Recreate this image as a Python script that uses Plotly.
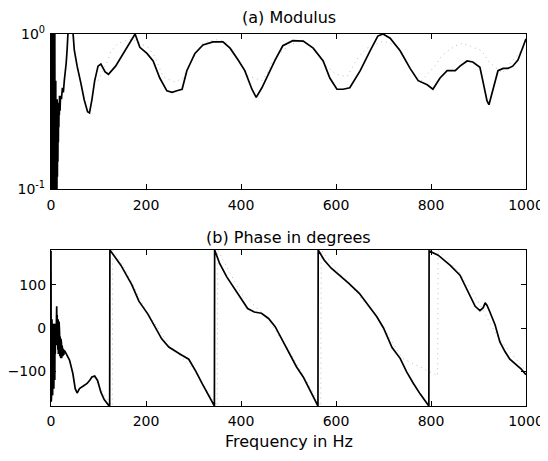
import plotly.graph_objects as go

# ---------------- data ----------------
# (a) Modulus, solid curve
mod_freq = [0, 0.5, 1, 1.5, 2, 2.5, 3, 3.5, 4, 4.5, 5, 5.5, 6, 6.5, 7, 7.5, 8, 8.5, 9,
            9.5, 10, 10.5, 11, 11.5, 12, 12.5, 13, 13.5, 14, 14.5, 15, 15.5, 16, 16.5,
            17, 17.5, 18, 19, 20,
            22, 24, 26, 28, 30, 32, 34, 36, 40, 46, 49, 55, 63, 70, 77, 81, 86, 92, 99,
            105, 114, 121, 136, 151, 166, 177, 187, 202, 215, 229, 244, 255, 265, 276,
            286, 303, 320, 341, 362, 377, 394, 408, 423, 432, 444, 457, 472, 488, 509,
            531, 552, 573, 587, 602, 615, 629, 651, 672, 688, 699, 714, 735, 756, 773,
            792, 804, 819, 834, 851, 861, 876, 888, 903, 909, 918, 922, 931, 941, 952,
            962, 972, 983, 992, 1000]
mod_val = [1.2, 0.08, 1.1, 0.09, 1.2, 0.12, 1.1, 0.08, 1.2, 0.1, 0.9, 0.08, 1.1, 0.09,
           0.8, 0.1, 1.0, 0.08, 0.7, 0.09, 0.5, 0.08, 0.4, 0.09, 0.35, 0.1, 0.38, 0.12,
           0.33, 0.15, 0.36, 0.2, 0.34, 0.25, 0.36, 0.3, 0.4, 0.32, 0.4,
           0.38, 0.45, 0.42, 0.5, 0.55, 0.65, 0.8,
           1.05, 1.2, 1.05, 0.79, 0.62, 0.48, 0.375, 0.315, 0.31, 0.375, 0.50, 0.62,
           0.64, 0.57, 0.55, 0.62, 0.74, 0.88, 1.0, 0.82, 0.75, 0.67, 0.52, 0.43, 0.42,
           0.43, 0.44, 0.58, 0.75, 0.85, 0.89, 0.89, 0.81, 0.68, 0.58, 0.44, 0.39, 0.45,
           0.55, 0.68, 0.84, 0.905, 0.90, 0.81, 0.67, 0.52, 0.44, 0.44, 0.45, 0.58, 0.78,
           0.97, 1.0, 0.94, 0.78, 0.60, 0.50, 0.47, 0.44, 0.52, 0.58, 0.58, 0.62, 0.67,
           0.66, 0.61, 0.50, 0.37, 0.35, 0.45, 0.58, 0.60, 0.60, 0.62, 0.68, 0.80, 0.93]

# (a) Modulus, faint dotted curve
mod2_freq = [99, 118, 126, 141, 170, 204, 219, 236, 260, 278, 286, 318, 345, 366, 392,
             413, 444, 455, 465, 476, 503, 530, 552, 566, 577, 600, 623, 636, 646, 665,
             700, 730, 745, 756, 780, 808, 819, 829, 851, 867, 907, 920, 950, 1000]
mod2_val = [0.50, 0.66, 0.77, 0.87, 0.93, 0.82, 0.71, 0.53, 0.49, 0.52, 0.59, 0.87, 0.92,
            0.90, 0.70, 0.54, 0.50, 0.56, 0.65, 0.73, 0.85, 0.91, 0.81, 0.70, 0.63, 0.55,
            0.53, 0.62, 0.70, 0.81, 0.90, 0.84, 0.70, 0.59, 0.50, 0.62, 0.70, 0.75, 0.84,
            0.87, 0.78, 0.67, 0.56, 0.85]

# (b) Phase in degrees, solid curve
ph_freq = [0, 0.5, 1, 1.5, 2, 2.5, 3, 3.5, 4, 4.5, 5, 5.5, 6, 6.5, 7, 7.5, 8, 8.5, 9,
           9.5, 10, 10.5, 11, 11.5, 12, 12.5, 13, 13.5, 14, 14.5, 15, 15.5, 16, 16.5,
           17, 17.5, 18, 18.5, 19, 19.5, 20, 20.5, 21, 21.5, 22, 22.5, 23, 23.5, 24,
           25, 26, 27, 28, 30, 32, 39, 46, 51, 55, 60, 65, 70, 76, 82, 86, 92, 98, 105,
           112, 121, 123.5,
           124, 134, 147, 170, 185, 204, 217, 233, 248, 260, 273, 290, 305, 318, 330,
           344,
           344.5, 355, 370, 384, 399, 414, 428, 443, 458, 472, 487, 502, 517, 531, 546,
           562,
           562.5, 575, 590, 608, 627, 649, 671, 686, 700, 718, 735, 749, 763, 777, 795.5,
           796, 815, 840, 861, 878, 893, 903, 910, 914, 918, 924, 935, 945, 956, 966,
           980, 990, 1000]
ph_val = [178, -170, 0, -150, 20, -120, -10, -155, 0, -130, 10, -60, -140, 0, -90, 10,
          -120, 5, -60, -20, 10, -40, 0, -30, 50, -20, 30, -40, 10, -50, 20, -60, 0,
          -55, 15, -50, -10, -65, -20, -60, -30, -70, -25, -65, -35, -70, -40, -62,
          -45, -65, -48, -62, -52, -55, -59, -74, -105, -140, -150, -140, -136, -132,
          -128, -120, -113, -111, -121, -148, -165, -178, -180,
          180, 165, 145, 100, 62, 32, 5, -25, -44, -53, -61, -72, -100, -128, -152,
          -180,
          180, 149, 118, 95, 72, 45, 37, 34, 22, 3, -28, -59, -90, -113, -144, -180,
          180, 157, 138, 122, 103, 80, 49, 26, 0, -45, -70, -102, -128, -152, -180,
          178, 168, 145, 122, 83, 50, 40, 47, 58, 52, 37, 7, -32, -55, -72, -85, -95,
          -108]

# (b) Phase in degrees, faint dotted curve
ph2_freq = [60, 90, 110, 129, 130, 150, 200, 250, 300, 350, 351, 400, 450, 500, 568,
            569, 620, 680, 740, 814, 815, 860, 900, 940, 1000]
ph2_val = [-140, -112, -150, -180, 180, 148, 40, -40, -95, -180, 180, 80, 30, -50, -180,
           180, 110, 35, -70, -110, 180, 128, 60, -20, -100]

x_ticks = [0, 200, 400, 600, 800, 1000]
mod_ticks = [0.1, 1]
mod_tick_text = ["10<sup>-1</sup>", "10<sup>0</sup>"]
ph_ticks = [-100, 0, 100]

title_a = "(a) Modulus"
title_b = "(b) Phase in degrees"
x_title = "Frequency in Hz"

# ---------------- figure ----------------
FONT = "DejaVu Sans, Liberation Sans, Arial, sans-serif"
W, H = 540, 453          # page adds an 8px body margin
ML, MT, MR, MB = 43, 26, 22, 55

fig = go.Figure()

dot_line = dict(color="#bdbdbd", width=1, dash="1px,4px")
fig.add_trace(go.Scatter(x=mod2_freq, y=mod2_val, mode="lines", line=dot_line,
                         xaxis="x", yaxis="y", showlegend=False))
fig.add_trace(go.Scatter(x=mod_freq, y=mod_val, mode="lines",
                         line=dict(color="black", width=1.7),
                         xaxis="x", yaxis="y", showlegend=False))
fig.add_trace(go.Scatter(x=ph2_freq, y=ph2_val, mode="lines", line=dot_line,
                         xaxis="x2", yaxis="y2", showlegend=False))
fig.add_trace(go.Scatter(x=ph_freq, y=ph_val, mode="lines",
                         line=dict(color="black", width=1.7),
                         xaxis="x2", yaxis="y2", showlegend=False))

axis_common = dict(showline=True, linecolor="black", linewidth=1.2, mirror="ticks",
                   ticks="inside", ticklen=5, tickcolor="black", tickwidth=1,
                   showgrid=False, zeroline=False, automargin=False,
                   tickfont=dict(family=FONT, size=14, color="black"))

plot_h = H - MT - MB
def ypix(p):
    """paper y for a pixel row measured in the figure"""
    return (H - MB - p) / plot_h

top_dom = [ypix(189 - 8), ypix(34 - 8)]
bot_dom = [ypix(406 - 8), ypix(250 - 8)]

fig.update_layout(
    width=W, height=H,
    margin=dict(l=ML, r=MR, t=MT, b=MB),
    paper_bgcolor="white", plot_bgcolor="white",
    xaxis=dict(domain=[0, 1], range=[0, 1000], tickvals=x_ticks, anchor="y",
               ticklabelstandoff=3, **axis_common),
    yaxis=dict(domain=top_dom, type="log", range=[-1, 0], tickvals=mod_ticks,
               ticktext=mod_tick_text, anchor="x", ticklabelstandoff=2, **axis_common),
    xaxis2=dict(domain=[0, 1], range=[0, 1000], tickvals=x_ticks, anchor="y2",
                ticklabelstandoff=2, **axis_common),
    yaxis2=dict(domain=bot_dom, range=[-180, 180], tickvals=ph_ticks,
                anchor="x2", ticklabelstandoff=1, **axis_common),
    annotations=[
        dict(text=title_a, x=0.5, y=ypix(17 - 8), xref="paper", yref="paper",
             yanchor="middle", showarrow=False,
             font=dict(family=FONT, size=16, color="black")),
        dict(text=title_b, x=0.5, y=ypix(238 - 8), xref="paper", yref="paper",
             yanchor="middle", showarrow=False,
             font=dict(family=FONT, size=16, color="black")),
        dict(text=x_title, x=0.5, y=ypix(442 - 8), xref="paper", yref="paper",
             yanchor="middle", showarrow=False,
             font=dict(family=FONT, size=16, color="black")),
    ],
)

fig.write_html("out.html")
